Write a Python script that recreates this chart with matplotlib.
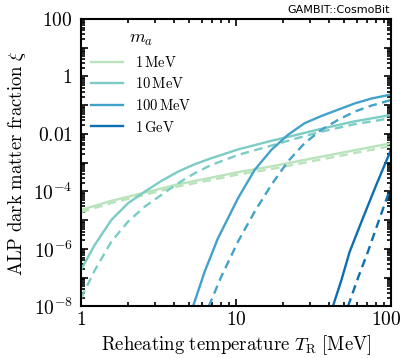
import math
import matplotlib
matplotlib.use("Agg")
import matplotlib.pyplot as plt
import matplotlib.transforms as mtransforms
from matplotlib.ticker import FixedLocator, LogLocator, NullFormatter, FuncFormatter

plt.rcParams['mathtext.fontset'] = 'cm'
plt.rcParams['font.family'] = 'DejaVu Serif'

# curves: reheating temperature [MeV] and xi
T_1mev = [1.0, 1.569, 2.576, 4.23, 6.93, 10.3, 16.6, 35.5, 100]
xi_1mev = [2.28e-5, 4.7e-5, 9.08e-5, 1.78e-4, 3.02e-4, 4.7e-4, 7.3e-4, 1.62e-3, 4.75e-3]
xi_1mev_d = [1.9e-5, 3.95e-5, 7.6e-5, 1.5e-4, 2.5e-4, 3.9e-4, 5.9e-4, 1.3e-3, 3.8e-3]

T_10mev = [1.0, 1.226, 1.569, 2.01, 2.576, 3.30, 4.23, 5.41, 6.93, 10.3,
           16.6, 25.1, 35.5, 58.3, 100]
xi_10mev = [1.86e-7, 1.38e-6, 1.02e-5, 3.89e-5, 9.84e-5, 2.32e-4, 4.89e-4, 8.83e-4,
            1.43e-3, 2.89e-3, 5.62e-3, 9.55e-3, 1.51e-2, 2.75e-2, 4.57e-2]
xi_10mev_d = [1.93e-8, 1.8e-7, 1.79e-6, 8.91e-6, 2.96e-5, 7.55e-5, 1.93e-4, 4.3e-4,
              8.36e-4, 1.86e-3, 3.83e-3, 7.26e-3, 1.2e-2, 2.19e-2, 3.52e-2]

T_100mev = [5.28, 6.28, 7.65, 9.33, 10.3, 13.2, 16.9, 21.6, 27.7, 35.5, 58.3, 74.6, 100]
xi_100mev = [1e-8, 1.62e-7, 2.35e-6, 1.98e-5, 5.79e-5, 5.6e-4, 2.77e-3, 9.23e-3,
             2.36e-2, 4.2e-2, 0.115, 0.17, 0.235]
T_100mev_d = [6.67, 8.04, 10.3, 13.2, 16.9, 21.6, 27.7, 35.5, 45.5, 58.3, 74.6, 100]
xi_100mev_d = [1e-8, 1.09e-7, 1.79e-6, 1.98e-5, 1.68e-4, 1.09e-3, 4.75e-3, 1.38e-2,
               3.07e-2, 5.97e-2, 9.64e-2, 0.152]

T_1gev = [42.2, 47.8, 54.2, 65.9, 80.4, 100]
xi_1gev = [1e-8, 7.9e-8, 8.05e-7, 1.17e-5, 1.68e-4, 2.77e-3]
T_1gev_d = [52.8, 61.2, 71.1, 82.4, 95.7, 100]
xi_1gev_d = [1e-8, 9.57e-8, 8.05e-7, 7.83e-6, 7.55e-5, 1.47e-4]

labels = [r'$1\,\mathrm{MeV}$', r'$10\,\mathrm{MeV}$', r'$100\,\mathrm{MeV}$', r'$1\,\mathrm{GeV}$']
colors = ['#b9e3bb', '#7bccc4', '#43a2ca', '#0e6fb0']

fig = plt.figure(figsize=(4.03, 3.58), dpi=100)
ax = fig.add_axes([0.201, 0.144, 0.769, 0.803])

solid = [(T_1mev, xi_1mev), (T_10mev, xi_10mev), (T_100mev, xi_100mev), (T_1gev, xi_1gev)]
dashed = [(T_1mev, xi_1mev_d), (T_10mev, xi_10mev_d), (T_100mev_d, xi_100mev_d), (T_1gev_d, xi_1gev_d)]
for (t, x), (td, xd), c, lab in zip(solid, dashed, colors, labels):
    ax.plot(t, x, color=c, lw=1.7, label=lab)
    ax.plot(td, xd, color=c, lw=1.7, ls=(0, (3.6, 2.3)))

ax.set_xscale('log')
ax.set_yscale('log')
ax.set_xlim(1, 100)
ax.set_ylim(1e-8, 100)

ax.xaxis.set_major_locator(FixedLocator([1, 10, 100]))
ax.xaxis.set_major_formatter(FuncFormatter(lambda v, p: r'$%d$' % round(v)))
ax.xaxis.set_minor_locator(LogLocator(base=10, subs=range(2, 10)))
ax.xaxis.set_minor_formatter(NullFormatter())

ylab = {-8: r'$10^{-8}$', -6: r'$10^{-6}$', -4: r'$10^{-4}$', -2: r'$0.01$', 0: r'$1$', 2: r'$100$'}
ax.yaxis.set_major_locator(FixedLocator([10.0 ** k for k in range(-8, 3)]))
ax.yaxis.set_major_formatter(FuncFormatter(lambda v, p: ylab.get(int(round(math.log10(v))), '')))
ax.yaxis.set_minor_locator(LogLocator(base=10, subs=range(2, 10), numticks=20))
ax.yaxis.set_minor_formatter(NullFormatter())

ax.tick_params(which='both', direction='in', top=True, right=True, width=1.2, labelsize=14)
ax.tick_params(which='major', length=5)
ax.tick_params(which='minor', length=3)
ax.tick_params(axis='y', which='major', pad=6)
for s in ax.spines.values():
    s.set_linewidth(1.5)

ax.set_xlabel(r'$\mathrm{Reheating\ temperature}\ T_\mathrm{R}\ [\mathrm{MeV}]$', fontsize=13.5, labelpad=3)
ax.set_ylabel(r'$\mathrm{ALP\ dark\ matter\ fraction}\ \xi$', fontsize=13.5, labelpad=4)

leg = ax.legend(loc='upper left', title=r'$m_a$', frameon=False, fontsize=10.5,
                title_fontsize=13, handlelength=2.2, borderaxespad=0.3,
                labelspacing=0.45, handletextpad=0.8)

# keep the "100" tick label inside the picture, as in the original
fig.canvas.draw()
last = ax.get_xticklabels()[-1]
last.set_transform(last.get_transform() + mtransforms.ScaledTranslation(-5 / 100, 0, fig.dpi_scale_trans))

fig.text(0.968, 0.958, 'GAMBIT::CosmoBit', ha='right', va='bottom', fontsize=8,
         family='DejaVu Sans')

fig.savefig('out.png', dpi=100)
